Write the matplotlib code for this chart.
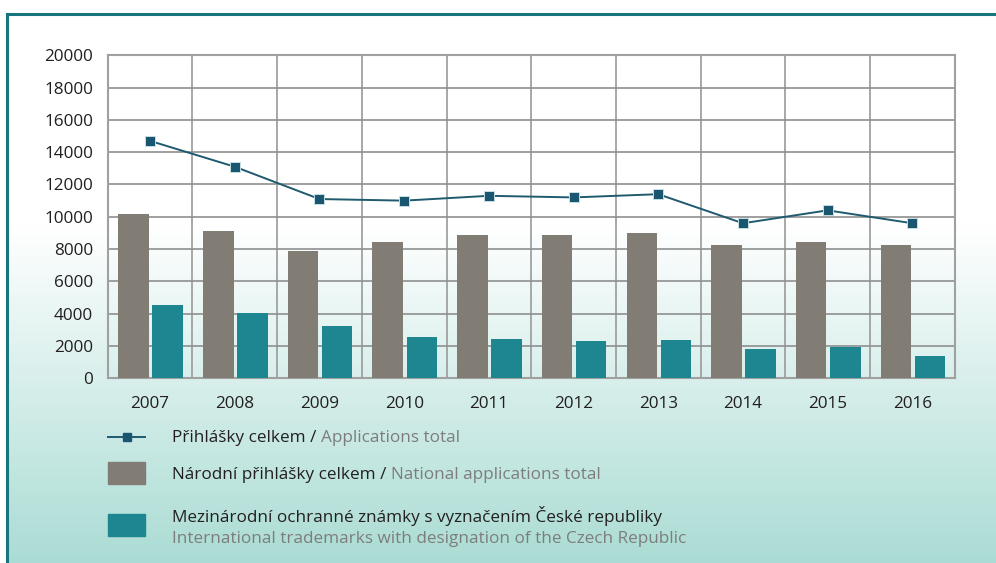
import numpy as np
import matplotlib.pyplot as plt
from matplotlib.lines import Line2D
from matplotlib.patches import Rectangle

plt.rcParams['font.family'] = ['Open Sans', 'DejaVu Sans']

years = ['2007', '2008', '2009', '2010', '2011', '2012', '2013', '2014', '2015', '2016']
total = [14700, 13100, 11100, 11000, 11300, 11200, 11400, 9600, 10400, 9600]
national = [10150, 9100, 7900, 8450, 8850, 8850, 9000, 8250, 8450, 8250]
international = [4550, 4050, 3250, 2550, 2450, 2300, 2350, 1800, 1950, 1400]

W, H = 996, 563
fig = plt.figure(figsize=(W / 100, H / 100), dpi=100)

# background: white top, teal gradient towards the bottom, inside the frame
bg = fig.add_axes([0, 0, 1, 1], zorder=-5)
bg.set_xlim(0, W)
bg.set_ylim(H, 0)
bg.axis('off')
rows = np.ones((H, 1, 3))
top_c = np.array([1.0, 1.0, 1.0])
bot_c = np.array([170, 220, 212]) / 255
for y in range(H):
    t = 0 if y < 216 else (y - 216) / (H - 216)
    rows[y, 0] = top_c + (bot_c - top_c) * t
bg.imshow(rows, aspect='auto', extent=(8, W, H, 15), interpolation='bilinear')
bg.add_line(Line2D([7, W], [14, 14], color='#17757d', lw=2.2))
bg.add_line(Line2D([7, 7], [14, H], color='#17757d', lw=2.2))

# main chart
ax = fig.add_axes([107.7 / W, 1 - 378.3 / H, 847 / W, 323 / H])
ax.patch.set_alpha(0)
x = np.arange(len(years))
ax.bar(x - 0.194, national, width=0.36, color='#817d75', zorder=3)
ax.bar(x + 0.208, international, width=0.36, color='#1d8690', zorder=3)
ax.plot(x, total, color='#1f5a6e', lw=1.4, marker='s', ms=7.5,
        mfc='#1b5670', mec='#c5dfe2', mew=0.7, zorder=4)

ax.set_xlim(-0.5, len(years) - 0.5)
ax.set_ylim(0, 20000)
ax.set_yticks(np.arange(0, 20001, 2000))
ax.set_xticks(x)
ax.set_xticklabels(years)
ax.set_xticks(np.arange(0.5, len(years) - 0.5, 1), minor=True)
ax.tick_params(axis='both', which='both', length=0, labelsize=12.3, colors='#231f20')
ax.tick_params(axis='x', pad=12.5)
ax.tick_params(axis='y', pad=10.5)
ax.grid(axis='y', color='#8f8f8f', lw=1.2, zorder=1)
ax.grid(axis='x', which='minor', color='#9a9a9a', lw=1.2, zorder=1)
for s in ax.spines.values():
    s.set_color('#a0a0a0')
    s.set_linewidth(1.5)

# legend
dark = '#231f20'
grey = '#7d7d7d'
lg = fig.add_axes([0, 0, 1, 1], zorder=5)
lg.set_xlim(0, W)
lg.set_ylim(H, 0)
lg.axis('off')
lg.add_line(Line2D([108, 145], [437, 437], color='#1f5a6e', lw=1.4))
lg.plot([126.5], [437], marker='s', ms=5.5, color='#1b5670')
lg.add_patch(Rectangle((108, 462), 37, 22, color='#817d75'))
lg.add_patch(Rectangle((108, 514), 37, 22, color='#1d8690'))

fs = 12.3


def two_tone(y, first, second):
    t = lg.text(172, y, first, color=dark, fontsize=fs, va='center', ha='left')
    lg.annotate(second, xy=(1, 0), xycoords=t, va='bottom', ha='left',
                color=grey, fontsize=fs)


two_tone(438, 'Přihlášky celkem / ', 'Applications total')
two_tone(475, 'Národní přihlášky celkem / ', 'National applications total')
lg.text(172, 516, 'Mezinárodní ochranné známky s vyznačením České republiky',
        color=dark, fontsize=fs, va='center', ha='left')
lg.text(172, 539, 'International trademarks with designation of the Czech Republic',
        color=grey, fontsize=fs, va='center', ha='left')

fig.savefig('out.png', dpi=100)
